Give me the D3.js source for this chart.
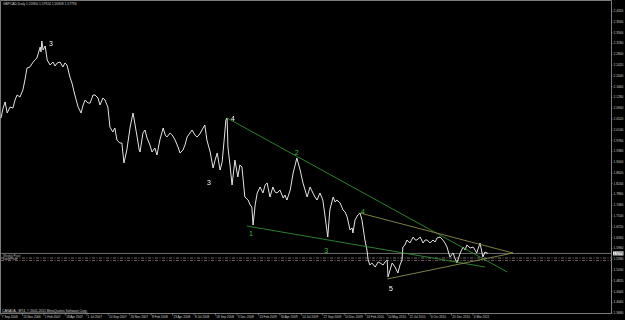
<!DOCTYPE html>
<html>
<head>
<meta charset="utf-8">
<script src="https://cdn.jsdelivr.net/npm/d3@7"></script>
<style>
  body { margin: 0; background: #000; }
  svg { display: block; font-family: "Liberation Sans", Arial, sans-serif; }
  .grey-text { filter: grayscale(1); }
</style>
</head>
<body>
<div id="chart"></div>
<script>
// GBPCAD daily: [bar index, close]
const series = [
  [0,2.0550],[5,2.0902],[10,2.1114],[15,2.0726],[22,2.0937],[29,2.0902],[34,2.1184],[39,2.1360],[46,2.1290],[53,2.1536],
  [58,2.1889],[63,2.2311],[70,2.2347],[78,2.2523],[82,2.2593],[87,2.2664],[95,2.3051],[97,2.2875],[99,2.3263],[102,2.2945],
  [107,2.3086],[112,2.2593],[119,2.2417],[126,2.2523],[131,2.2382],[136,2.2488],[143,2.2523],[150,2.2347],[155,2.2488],[160,2.2417],
  [167,2.1994],[172,2.1783],[179,2.1360],[187,2.0937],[194,2.0726],[199,2.1008],[204,2.1184],[211,2.1078],[216,2.1078],[223,2.1360],
  [228,2.1360],[235,2.1254],[240,2.1008],[247,2.1254],[252,2.1184],[257,2.1008],[259,2.0937],[264,2.0233],[271,2.0057],[276,2.0198],
  [281,1.9775],[288,1.9669],[293,1.9669],[298,1.8965],[305,1.9422],[313,2.0233],[320,2.0726],[325,2.0303],[330,1.9880],[335,1.9422],
  [337,1.9352],[344,2.0021],[349,2.0127],[354,1.9845],[361,1.9599],[366,1.9352],[373,1.9493],[378,1.9246],[385,1.9775],[393,2.0198],
  [398,1.9951],[402,1.9880],[410,2.0021],[415,1.9951],[422,1.9775],[429,1.9528],[434,1.9317],[441,1.9422],[446,1.9599],[451,1.9880],
  [458,2.0021],[463,2.0127],[470,1.9951],[475,1.9880],[482,1.9986],[487,2.0127],[494,2.0303],[499,1.9775],[507,1.9352],[514,1.8788],
  [519,1.9070],[524,1.9317],[531,1.8718],[536,1.9000],[538,1.9317],[543,2.0127],[545,2.0479],[548,2.0550],[550,1.9528],[555,1.8894],
  [560,1.8189],[567,1.9070],[574,1.8471],[579,1.8894],[584,1.8824],[591,1.7767],[599,1.7661],[604,1.7485],[608,1.7414],[611,1.6780],
  [616,1.7485],[621,1.7908],[628,1.8119],[635,1.7908],[640,1.8189],[645,1.8260],[652,1.7767],[659,1.8119],[664,1.7943],[669,1.7908],
  [676,1.8013],[684,1.7731],[688,1.7837],[693,1.7661],[701,1.8013],[708,1.8612],[713,1.8894],[717,1.9141],[725,1.8718],[732,1.8260],
  [737,1.8013],[742,1.7767],[749,1.8119],[756,1.7908],[761,1.7767],[766,1.7661],[773,1.7908],[780,1.7661],[785,1.7133],[792,1.6357],
  [797,1.7309],[805,1.7767],[810,1.7591],[814,1.7661],[822,1.7555],[829,1.7309],[834,1.7238],[839,1.7062],[846,1.6604],[851,1.6675],
  [853,1.6498],[858,1.6956],[865,1.7133],[870,1.7203],[875,1.6956],[882,1.6252],[887,1.5899],[890,1.5547],[894,1.5371],[899,1.5442],
  [907,1.5301],[914,1.5477],[919,1.5442],[926,1.5371],[931,1.5477],[936,1.5547],[938,1.4948],[943,1.5195],[948,1.5442],[955,1.5301],
  [962,1.5089],[967,1.5371],[972,1.5547],[974,1.6005],[979,1.6076],[984,1.6252],[991,1.6146],[999,1.6357],[1004,1.6252],[1008,1.6252],
  [1016,1.6357],[1023,1.6146],[1028,1.6252],[1033,1.6252],[1040,1.6146],[1047,1.6252],[1052,1.6181],[1057,1.6322],[1064,1.6357],[1071,1.6252],
  [1076,1.6146],[1081,1.6005],[1088,1.5653],[1096,1.5794],[1100,1.5618],[1105,1.5442],[1113,1.5794],[1120,1.6005],[1125,1.5899],[1129,1.6076],
  [1137,1.5970],[1144,1.6005],[1149,1.5899],[1153,1.5794],[1161,1.6146],[1168,1.5653],[1173,1.5829],[1178,1.5794],[1180,1.5779]
];

const dateLabels = ["7 Sep 2006","15 Nov 2006","1 Feb 2007","18 Apr 2007","1 Jul 2007","10 Sep 2007","26 Nov 2007",
  "8 Feb 2008","23 Apr 2008","8 Jul 2008","18 Sep 2008","3 Dec 2008","13 Feb 2009","30 Apr 2009","14 Jul 2009",
  "27 Sep 2009","10 Dec 2009","24 Feb 2010","10 May 2010","22 Jul 2010","6 Oct 2010","20 Dec 2010","4 Mar 2011"];
const barsPerLabel = 52;

const priceTicks = [1.3680,1.4060,1.4440,1.4820,1.5200,1.5580,1.5960,1.6340,1.6720,1.7100,1.7480,1.7860,1.8240,1.8620,
  1.9000,1.9380,1.9760,2.0140,2.0520,2.0900,2.1280,2.1660,2.2040,2.2420,2.2800,2.3180,2.3560,2.3940,2.4320];

// trend lines: [bar1, price1, bar2, price2, colour]
const trendLines = [
  [548, 2.0550, 1227, 1.5124, "#2f8f2f"],
  [596, 1.6745, 1173, 1.5301, "#2f8f2f"],
  [870, 1.7203, 1241, 1.5794, "#8c8c4a"],
  [936, 1.4878, 1241, 1.5794, "#8c8c4a"]
];

// wave counts: [bar, price, text, colour]
const waveLabels = [
  [121, 2.3192, "3", "#ffffff"],
  [504, 1.8295, "3", "#ffffff"],
  [562, 2.0550, "4", "#ffffff"],
  [945, 1.4526, "5", "#ffffff"],
  [606, 1.6498, "1", "#3fbf3f"],
  [717, 1.9352, "2", "#3fbf3f"],
  [788, 1.5899, "3", "#3fbf3f"],
  [877, 1.7273, "4", "#3fbf3f"]
];

const bidPrice = 1.5779;
const levels = [[1.5618, "#8a8a8a"], [1.5530, "#8a6f6f"]];

const W = 625, H = 320;
const svg = d3.select("#chart").append("svg").attr("width", W).attr("height", H);
svg.append("rect").attr("width", W).attr("height", H).attr("fill", "#000");

const plotRight = 611, plotBottom = 313;
const x = d3.scaleLinear().domain([0, barsPerLabel * 22]).range([1, 473]);
const y = d3.scaleLinear().domain([1.368, 2.432]).range([plotBottom, 11]);

// frame
svg.append("path")
  .attr("d", `M0.5,0.5H${plotRight + 0.5}V${plotBottom + 0.5}H0.5Z`)
  .attr("fill", "none").attr("stroke", "#7a7a7a").attr("stroke-width", 1);

// horizontal levels
svg.selectAll(".lvl").data(levels).join("line")
  .attr("x1", 1).attr("x2", plotRight)
  .attr("y1", d => y(d[0])).attr("y2", d => y(d[0]))
  .attr("stroke", d => d[1]).attr("stroke-width", 0.8)
  .attr("stroke-dasharray", "3,1.5,1,1.5");

svg.append("line")
  .attr("x1", 1).attr("x2", plotRight)
  .attr("y1", y(bidPrice)).attr("y2", y(bidPrice))
  .attr("stroke", "#8c8c8c").attr("stroke-width", 0.8);

svg.append("text").attr("x", 3).attr("y", y(bidPrice) + 3.5)
  .attr("font-size", 3).attr("fill", "#bbb").text("Weekly Pivot");
svg.append("text").attr("x", 3).attr("y", y(bidPrice) + 6.3)
  .attr("font-size", 3).attr("fill", "#bbb").text("Daily Pivot");

// price line
svg.append("path").datum(series)
  .attr("d", d3.line().x(d => x(d[0])).y(d => y(d[1])))
  .attr("fill", "none").attr("stroke", "#e4e4e4").attr("stroke-width", 1)
  .attr("stroke-linejoin", "round");

// trend lines
svg.selectAll(".trend").data(trendLines).join("line")
  .attr("x1", d => x(d[0])).attr("y1", d => y(d[1]))
  .attr("x2", d => x(d[2])).attr("y2", d => y(d[3]))
  .attr("stroke", d => d[4]).attr("stroke-width", 0.9);

// wave labels (white ones in a grayscale group so they don't pick up colour fringes)
const waveWhite = svg.append("g").attr("class", "grey-text");
const waveGreen = svg.append("g");
waveLabels.forEach(d => {
  const g = d[3] === "#ffffff" ? waveWhite : waveGreen;
  g.append("text")
    .attr("x", x(d[0])).attr("y", y(d[1]) + 2.5)
    .attr("text-anchor", "middle").attr("font-size", 7)
    .attr("fill", d[3]).text(d[2]);
});

// price axis
const yAxis = svg.append("g").attr("font-size", 3.2).attr("fill", "#cfcfcf");
yAxis.selectAll("line").data(priceTicks).join("line")
  .attr("x1", plotRight).attr("x2", plotRight + 1.5)
  .attr("y1", d => y(d)).attr("y2", d => y(d))
  .attr("stroke", "#9a9a9a").attr("stroke-width", 0.6);
yAxis.selectAll("text").data(priceTicks).join("text")
  .attr("x", plotRight + 2.5).attr("y", d => y(d) + 1.1)
  .text(d => d.toFixed(4));

svg.append("rect")
  .attr("x", plotRight + 2).attr("y", y(bidPrice) - 2)
  .attr("width", 10.5).attr("height", 4).attr("fill", "#f0f0f0");
svg.append("text")
  .attr("x", plotRight + 2.5).attr("y", y(bidPrice) + 1.1)
  .attr("font-size", 3.2).attr("fill", "#000").text(bidPrice.toFixed(4));

// date axis
const xAxis = svg.append("g").attr("font-size", 3.1).attr("fill", "#cfcfcf");
xAxis.selectAll("line").data(dateLabels).join("line")
  .attr("x1", (d, i) => x(i * barsPerLabel)).attr("x2", (d, i) => x(i * barsPerLabel))
  .attr("y1", plotBottom).attr("y2", plotBottom + 2.5)
  .attr("stroke", "#9a9a9a").attr("stroke-width", 0.6);
xAxis.selectAll("text").data(dateLabels).join("text")
  .attr("x", (d, i) => x(i * barsPerLabel) + 0.8).attr("y", plotBottom + 5)
  .text(d => d);

// header and footer
svg.append("text").attr("x", 3).attr("y", 5)
  .attr("font-size", 3.3).attr("fill", "#d0d0d0")
  .text("GBPCAD,Daily  1.55900 1.57924 1.55818 1.57794");
svg.append("text").attr("x", 2).attr("y", plotBottom - 1.5)
  .attr("font-size", 3.3).attr("fill", "#d0d0d0")
  .attr("text-decoration", "underline")
  .text("CANADA - MT4, © 2001-2011 MetaQuotes Software Corp.");
</script>
</body>
</html>
